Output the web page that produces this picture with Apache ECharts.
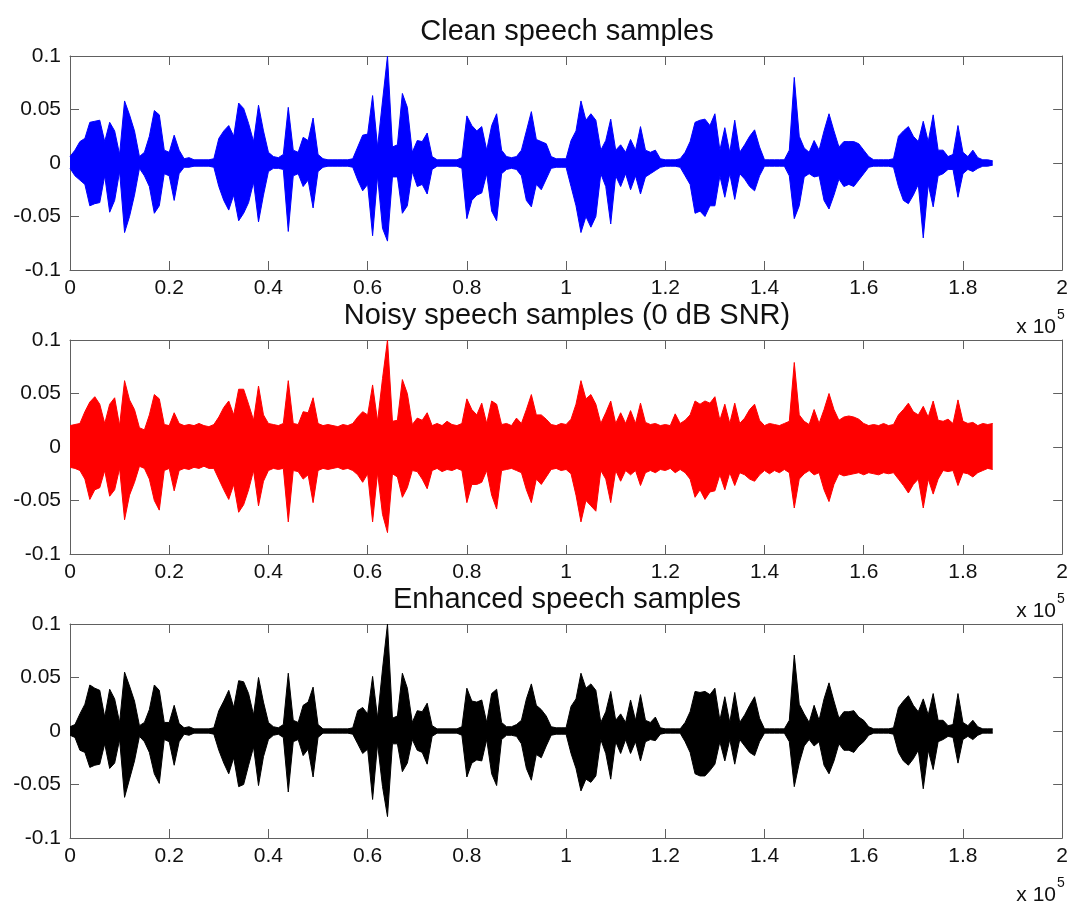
<!DOCTYPE html>
<html>
<head>
<meta charset="utf-8">
<script src="https://cdn.jsdelivr.net/npm/echarts@6/dist/echarts.min.js"></script>
<style>
  html, body { margin: 0; padding: 0; background: #ffffff; }
  #chart { width: 1071px; height: 907px; }
</style>
</head>
<body>
<div id="chart"></div>
<script>
// Samples covered by one envelope bin (value k sits at sample k * BIN)
const BIN = 1000;

const panelTitles = ['Clean speech samples', 'Noisy speech samples (0 dB SNR)', 'Enhanced speech samples'];
const xTickLabels = ['0', '0.2', '0.4', '0.6', '0.8', '1', '1.2', '1.4', '1.6', '1.8', '2'];
const yTickLabels = ['-0.1', '-0.05', '0', '0.05', '0.1'];
const xScaleNote = 'x 10';
const xScaleExp = '5';

// Per-bin upper / lower envelope of the clean signal
const cleanMax = [
  0.006,0.012,0.02,0.023,0.038,0.039,0.04,0.02,0.038,0.03,
  0.008,0.058,0.045,0.03,0.006,0.01,0.025,0.049,0.045,0.012,
  0.01,0.026,0.012,0.004,0.005,0.003,0.003,0.003,0.003,0.004,
  0.023,0.03,0.035,0.025,0.056,0.051,0.037,0.02,0.054,0.03,
  0.01,0.006,0.005,0.008,0.052,0.012,0.01,0.024,0.021,0.042,
  0.008,0.004,0.003,0.003,0.003,0.003,0.003,0.004,0.015,0.026,
  0.027,0.063,0.015,0.058,0.1,0.015,0.017,0.065,0.052,0.01,
  0.021,0.02,0.028,0.006,0.003,0.003,0.003,0.003,0.003,0.005,
  0.044,0.035,0.03,0.034,0.012,0.035,0.046,0.012,0.006,0.005,
  0.006,0.012,0.03,0.048,0.022,0.02,0.018,0.006,0.004,0.004,
  0.004,0.021,0.03,0.058,0.04,0.046,0.04,0.012,0.021,0.041,
  0.012,0.017,0.01,0.022,0.012,0.034,0.012,0.01,0.012,0.004,
  0.003,0.003,0.003,0.004,0.01,0.02,0.038,0.04,0.041,0.035,
  0.046,0.012,0.033,0.01,0.04,0.01,0.017,0.025,0.031,0.015,
  0.003,0.003,0.003,0.003,0.003,0.012,0.08,0.025,0.014,0.01,
  0.021,0.012,0.03,0.046,0.03,0.015,0.02,0.02,0.02,0.018,
  0.012,0.006,0.003,0.003,0.003,0.003,0.004,0.025,0.03,0.034,
  0.025,0.02,0.039,0.02,0.045,0.012,0.012,0.006,0.008,0.035,
  0.01,0.006,0.012,0.005,0.003,0.003,0.002
];
const cleanMin = [
  -0.005,-0.012,-0.016,-0.02,-0.04,-0.038,-0.037,-0.012,-0.046,-0.035,
  -0.008,-0.065,-0.05,-0.03,-0.005,-0.012,-0.022,-0.047,-0.04,-0.01,
  -0.012,-0.035,-0.01,-0.004,-0.004,-0.003,-0.003,-0.003,-0.003,-0.004,
  -0.022,-0.035,-0.044,-0.03,-0.054,-0.047,-0.037,-0.018,-0.055,-0.03,
  -0.008,-0.005,-0.005,-0.006,-0.064,-0.012,-0.01,-0.022,-0.016,-0.042,
  -0.008,-0.004,-0.003,-0.003,-0.003,-0.003,-0.003,-0.004,-0.016,-0.026,
  -0.02,-0.068,-0.012,-0.061,-0.073,-0.013,-0.013,-0.047,-0.04,-0.008,
  -0.022,-0.02,-0.029,-0.006,-0.003,-0.003,-0.003,-0.003,-0.003,-0.005,
  -0.052,-0.035,-0.03,-0.028,-0.01,-0.045,-0.054,-0.01,-0.006,-0.005,
  -0.006,-0.012,-0.035,-0.041,-0.02,-0.025,-0.015,-0.005,-0.004,-0.004,
  -0.004,-0.022,-0.04,-0.065,-0.05,-0.06,-0.05,-0.01,-0.022,-0.057,
  -0.012,-0.022,-0.01,-0.025,-0.012,-0.029,-0.013,-0.01,-0.007,-0.004,
  -0.003,-0.003,-0.003,-0.004,-0.012,-0.02,-0.047,-0.045,-0.05,-0.04,
  -0.04,-0.012,-0.032,-0.01,-0.034,-0.01,-0.015,-0.022,-0.026,-0.012,
  -0.003,-0.003,-0.003,-0.003,-0.003,-0.012,-0.052,-0.04,-0.013,-0.01,
  -0.013,-0.012,-0.035,-0.043,-0.03,-0.015,-0.022,-0.02,-0.022,-0.016,
  -0.01,-0.004,-0.003,-0.003,-0.003,-0.003,-0.004,-0.022,-0.035,-0.038,
  -0.03,-0.02,-0.07,-0.02,-0.041,-0.012,-0.01,-0.006,-0.006,-0.032,
  -0.01,-0.006,-0.008,-0.005,-0.003,-0.003,-0.002
];

// Per-bin upper / lower envelope of the noisy signal
const noisyMax = [
  0.02,0.021,0.022,0.033,0.042,0.047,0.04,0.022,0.04,0.046,
  0.02,0.062,0.044,0.035,0.018,0.016,0.03,0.049,0.045,0.021,
  0.02,0.032,0.022,0.02,0.021,0.02,0.022,0.02,0.019,0.021,
  0.028,0.037,0.043,0.03,0.054,0.054,0.04,0.025,0.057,0.03,
  0.022,0.021,0.02,0.022,0.062,0.022,0.021,0.033,0.032,0.046,
  0.022,0.02,0.021,0.02,0.019,0.021,0.02,0.022,0.028,0.033,
  0.03,0.058,0.024,0.064,0.1,0.024,0.025,0.063,0.05,0.021,
  0.027,0.025,0.032,0.02,0.022,0.02,0.024,0.021,0.02,0.022,
  0.045,0.035,0.03,0.041,0.022,0.043,0.04,0.021,0.022,0.02,
  0.027,0.022,0.035,0.049,0.03,0.03,0.026,0.021,0.02,0.022,
  0.021,0.026,0.04,0.062,0.045,0.049,0.04,0.022,0.032,0.043,
  0.022,0.032,0.022,0.034,0.022,0.041,0.023,0.021,0.022,0.02,
  0.021,0.02,0.031,0.022,0.025,0.03,0.043,0.04,0.043,0.041,
  0.047,0.025,0.04,0.022,0.041,0.022,0.027,0.035,0.04,0.025,
  0.02,0.022,0.021,0.02,0.022,0.024,0.079,0.03,0.024,0.021,
  0.035,0.022,0.035,0.05,0.035,0.025,0.028,0.029,0.028,0.026,
  0.022,0.02,0.021,0.02,0.022,0.02,0.021,0.03,0.035,0.041,
  0.033,0.03,0.038,0.028,0.043,0.025,0.024,0.026,0.022,0.044,
  0.024,0.022,0.023,0.02,0.022,0.021,0.022
];
const noisyMin = [
  -0.019,-0.02,-0.022,-0.03,-0.049,-0.04,-0.038,-0.022,-0.046,-0.04,
  -0.02,-0.068,-0.045,-0.033,-0.018,-0.02,-0.03,-0.05,-0.059,-0.022,
  -0.02,-0.041,-0.022,-0.02,-0.021,-0.019,-0.02,-0.018,-0.02,-0.02,
  -0.03,-0.04,-0.049,-0.035,-0.061,-0.054,-0.04,-0.022,-0.055,-0.032,
  -0.022,-0.02,-0.021,-0.02,-0.07,-0.022,-0.023,-0.03,-0.026,-0.052,
  -0.022,-0.02,-0.021,-0.02,-0.019,-0.021,-0.02,-0.022,-0.026,-0.033,
  -0.025,-0.07,-0.024,-0.063,-0.08,-0.025,-0.028,-0.047,-0.038,-0.022,
  -0.023,-0.03,-0.039,-0.022,-0.02,-0.023,-0.021,-0.022,-0.02,-0.022,
  -0.052,-0.035,-0.035,-0.033,-0.022,-0.045,-0.058,-0.022,-0.021,-0.02,
  -0.022,-0.024,-0.04,-0.052,-0.03,-0.035,-0.028,-0.021,-0.02,-0.022,
  -0.021,-0.025,-0.045,-0.07,-0.05,-0.055,-0.06,-0.022,-0.03,-0.052,
  -0.022,-0.032,-0.022,-0.026,-0.022,-0.036,-0.024,-0.022,-0.024,-0.021,
  -0.022,-0.02,-0.024,-0.021,-0.024,-0.03,-0.047,-0.04,-0.049,-0.042,
  -0.041,-0.026,-0.04,-0.024,-0.036,-0.024,-0.026,-0.03,-0.032,-0.026,
  -0.022,-0.025,-0.022,-0.024,-0.021,-0.024,-0.057,-0.03,-0.025,-0.022,
  -0.026,-0.024,-0.04,-0.051,-0.035,-0.025,-0.027,-0.026,-0.025,-0.024,
  -0.026,-0.024,-0.025,-0.026,-0.024,-0.025,-0.024,-0.03,-0.036,-0.043,
  -0.035,-0.03,-0.057,-0.03,-0.044,-0.03,-0.022,-0.023,-0.022,-0.036,
  -0.024,-0.025,-0.028,-0.024,-0.022,-0.02,-0.021
];

// Per-bin upper / lower envelope of the enhanced signal
const enhancedMax = [
  0.004,0.006,0.016,0.025,0.043,0.04,0.038,0.013,0.039,0.03,
  0.008,0.055,0.042,0.028,0.005,0.008,0.02,0.043,0.038,0.008,
  0.008,0.024,0.007,0.003,0.004,0.002,0.002,0.002,0.002,0.003,
  0.019,0.028,0.038,0.022,0.047,0.046,0.035,0.015,0.05,0.027,
  0.008,0.004,0.003,0.006,0.054,0.01,0.008,0.024,0.027,0.041,
  0.006,0.002,0.002,0.002,0.002,0.002,0.002,0.003,0.019,0.022,
  0.016,0.051,0.012,0.058,0.1,0.012,0.014,0.054,0.04,0.008,
  0.019,0.018,0.026,0.005,0.002,0.002,0.002,0.002,0.002,0.004,
  0.04,0.028,0.027,0.029,0.008,0.035,0.039,0.008,0.004,0.004,
  0.006,0.01,0.03,0.044,0.024,0.02,0.014,0.004,0.003,0.003,
  0.003,0.023,0.03,0.054,0.04,0.044,0.038,0.008,0.018,0.037,
  0.01,0.016,0.008,0.029,0.01,0.034,0.01,0.008,0.013,0.003,
  0.002,0.002,0.002,0.002,0.008,0.018,0.037,0.036,0.037,0.034,
  0.04,0.01,0.032,0.008,0.036,0.008,0.015,0.024,0.032,0.012,
  0.002,0.002,0.002,0.002,0.002,0.01,0.071,0.025,0.016,0.008,
  0.024,0.01,0.03,0.045,0.028,0.012,0.018,0.018,0.019,0.013,
  0.01,0.004,0.002,0.002,0.002,0.002,0.003,0.022,0.028,0.033,
  0.024,0.018,0.03,0.015,0.035,0.01,0.01,0.005,0.006,0.035,
  0.008,0.005,0.01,0.004,0.002,0.002,0.002
];
const enhancedMin = [
  -0.004,-0.006,-0.018,-0.02,-0.034,-0.032,-0.031,-0.012,-0.035,-0.03,
  -0.008,-0.062,-0.045,-0.028,-0.005,-0.01,-0.02,-0.04,-0.049,-0.008,
  -0.01,-0.032,-0.01,-0.003,-0.004,-0.002,-0.002,-0.002,-0.002,-0.003,
  -0.018,-0.03,-0.04,-0.025,-0.052,-0.05,-0.032,-0.015,-0.051,-0.024,
  -0.008,-0.004,-0.003,-0.006,-0.057,-0.01,-0.008,-0.023,-0.017,-0.043,
  -0.006,-0.002,-0.002,-0.002,-0.002,-0.002,-0.002,-0.003,-0.012,-0.021,
  -0.017,-0.064,-0.012,-0.052,-0.08,-0.012,-0.012,-0.038,-0.03,-0.008,
  -0.018,-0.02,-0.031,-0.005,-0.002,-0.002,-0.002,-0.002,-0.002,-0.004,
  -0.043,-0.03,-0.027,-0.028,-0.008,-0.04,-0.051,-0.008,-0.004,-0.004,
  -0.005,-0.012,-0.035,-0.046,-0.022,-0.025,-0.014,-0.004,-0.003,-0.003,
  -0.003,-0.021,-0.035,-0.056,-0.045,-0.048,-0.042,-0.008,-0.021,-0.045,
  -0.01,-0.021,-0.008,-0.021,-0.01,-0.028,-0.01,-0.008,-0.009,-0.003,
  -0.002,-0.002,-0.002,-0.002,-0.01,-0.02,-0.04,-0.042,-0.042,-0.037,
  -0.031,-0.01,-0.028,-0.008,-0.031,-0.008,-0.014,-0.02,-0.023,-0.01,
  -0.002,-0.002,-0.002,-0.002,-0.002,-0.01,-0.052,-0.03,-0.014,-0.008,
  -0.014,-0.01,-0.032,-0.04,-0.028,-0.012,-0.018,-0.018,-0.02,-0.014,
  -0.01,-0.004,-0.002,-0.002,-0.002,-0.002,-0.003,-0.02,-0.028,-0.032,
  -0.026,-0.018,-0.054,-0.018,-0.036,-0.01,-0.008,-0.005,-0.006,-0.03,
  -0.008,-0.005,-0.008,-0.004,-0.002,-0.002,-0.002
];

const panels = [
  { title: panelTitles[0], color: '#0000ff', upper: cleanMax, lower: cleanMin },
  { title: panelTitles[1], color: '#ff0000', upper: noisyMax, lower: noisyMin },
  { title: panelTitles[2], color: '#000000', upper: enhancedMax, lower: enhancedMin }
];

const FONT = '"Liberation Sans", Arial, Helvetica, sans-serif';
const AXIS_COLOR = '#606060';
const TEXT_COLOR = '#111111';
const PLOT_LEFT = 70, PLOT_WIDTH = 994, PLOT_HEIGHT = 214;
const PLOT_TOPS = [56, 340, 624];

const grids = [], xAxes = [], yAxes = [], series = [], graphics = [];

function toPoints(values) {
  return values.map((v, k) => [k * BIN, v]);
}

panels.forEach((p, i) => {
  const top = PLOT_TOPS[i];
  grids.push({ left: PLOT_LEFT, top: top, width: PLOT_WIDTH, height: PLOT_HEIGHT });

  const xBase = {
    gridIndex: i, type: 'value', min: 0, max: 200000, interval: 20000,
    splitLine: { show: false },
    axisLine: { show: true, onZero: false, lineStyle: { color: AXIS_COLOR, width: 1 } },
    axisTick: { show: true, inside: true, length: 9, lineStyle: { color: AXIS_COLOR, width: 1 } }
  };
  xAxes.push(Object.assign({}, xBase, {
    position: 'bottom',
    axisLabel: {
      show: true, margin: 8, fontSize: 21, fontFamily: FONT, color: TEXT_COLOR,
      showMinLabel: true, showMaxLabel: true, hideOverlap: false,
      formatter: v => xTickLabels[Math.round(v / 20000)]
    }
  }));
  xAxes.push(Object.assign({}, xBase, { position: 'top', axisLabel: { show: false } }));

  const yBase = {
    gridIndex: i, type: 'value', min: -0.1, max: 0.1, interval: 0.05,
    splitLine: { show: false },
    axisLine: { show: true, onZero: false, lineStyle: { color: AXIS_COLOR, width: 1 } },
    axisTick: { show: true, inside: true, length: 9, lineStyle: { color: AXIS_COLOR, width: 1 } }
  };
  yAxes.push(Object.assign({}, yBase, {
    position: 'left',
    axisLabel: {
      show: true, margin: 9, fontSize: 21, fontFamily: FONT, color: TEXT_COLOR,
      showMinLabel: true, showMaxLabel: true, hideOverlap: false,
      formatter: v => yTickLabels[Math.round((v + 0.1) / 0.05)]
    }
  }));
  yAxes.push(Object.assign({}, yBase, { position: 'right', axisLabel: { show: false } }));

  [p.upper, p.lower].forEach(vals => {
    series.push({
      type: 'line',
      xAxisIndex: i * 2,
      yAxisIndex: i * 2,
      data: toPoints(vals),
      showSymbol: false,
      symbol: 'none',
      silent: true,
      smooth: false,
      lineStyle: { color: p.color, width: 1 },
      areaStyle: { color: p.color, opacity: 1, origin: 0 },
      z: 1
    });
  });

  // Panel title
  graphics.push({
    type: 'text', x: PLOT_LEFT + PLOT_WIDTH / 2, y: top - 24, silent: true,
    style: {
      text: p.title, fontSize: 29, fontFamily: FONT, fill: TEXT_COLOR,
      align: 'center', verticalAlign: 'middle', textAlign: 'center', textVerticalAlign: 'middle'
    }
  });
  // Axis multiplier note: x 10^5
  const noteY = top + PLOT_HEIGHT + 57;
  graphics.push({
    type: 'text', x: 1056, y: noteY, silent: true,
    style: {
      text: xScaleNote, fontSize: 21, fontFamily: FONT, fill: TEXT_COLOR,
      align: 'right', verticalAlign: 'middle', textAlign: 'right', textVerticalAlign: 'middle'
    }
  });
  graphics.push({
    type: 'text', x: 1057, y: noteY - 12, silent: true,
    style: {
      text: xScaleExp, fontSize: 14, fontFamily: FONT, fill: TEXT_COLOR,
      align: 'left', verticalAlign: 'middle', textAlign: 'left', textVerticalAlign: 'middle'
    }
  });
});

const chart = echarts.init(document.getElementById('chart'), null, { renderer: 'canvas' });
chart.setOption({
  backgroundColor: '#ffffff',
  animation: false,
  grid: grids,
  xAxis: xAxes,
  yAxis: yAxes,
  series: series,
  graphic: graphics
});
</script>
</body>
</html>
